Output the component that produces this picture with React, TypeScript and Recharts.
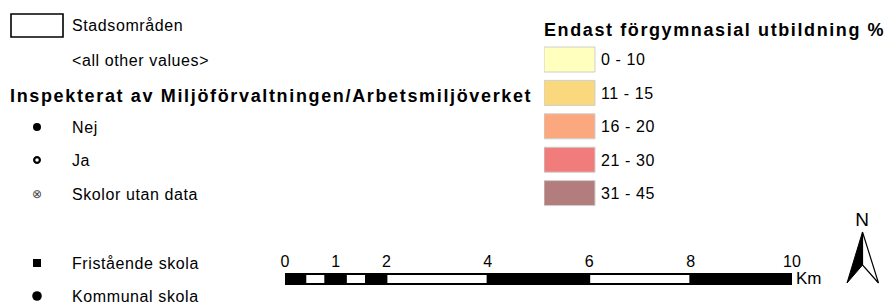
import { Bar, BarChart, Cell, Polygon, Rectangle, Surface, Symbols, Text, XAxis, YAxis } from "recharts"

const FONT = '"Liberation Sans", Arial, sans-serif'

// left legend: point symbols
const schoolStatus = ["Nej", "Ja", "Skolor utan data"]
const schoolTypes = ["Fristående skola", "Kommunal skola"]

// right legend: class breaks
const classLabels = ["0 - 10", "11 - 15", "16 - 20", "21 - 30", "31 - 45"]
const classColors = ["#ffffbe", "#f9d87e", "#fca87e", "#f07c7c", "#b47d7d"]

// scale bar (km)
const scaleBreaks = [0, 0.4, 0.8, 1.2, 1.6, 2, 4, 6, 8, 10]
const scaleTicks = [0, 1, 2, 4, 6, 8, 10]

const classData = classLabels.map((label, i) => ({ label, value: 1, color: classColors[i] }))

const scaleRow: Record<string, number | string> = { name: "km" }
const segKeys: string[] = []
for (let i = 1; i < scaleBreaks.length; i++) {
    const k = `s${i}`
    segKeys.push(k)
    scaleRow[k] = scaleBreaks[i] - scaleBreaks[i - 1]
}

function Label({ x, y, children, bold = false, size = 16, spacing = 0.6 }: any) {
    return (
        <Text
            x={x}
            y={y}
            verticalAnchor="middle"
            textAnchor="start"
            fontFamily={FONT}
            fontSize={size}
            fontWeight={bold ? "bold" : "normal"}
            letterSpacing={spacing}
            fill="#000"
        >
            {children}
        </Text>
    )
}

function Overlay() {
    return (
        <Surface width={892} height={307} style={{ position: "absolute", left: 0, top: 0 }}>
            <Rectangle x={11} y={14} width={52} height={23} fill="none" stroke="#000" strokeWidth={1.6} />
            <Label x={72} y={25}>Stadsområden</Label>
            <Label x={72} y={60}>{"<all other values>"}</Label>
            <Label x={10} y={96} bold size={18} spacing={1.65}>Inspekterat av Miljöförvaltningen/Arbetsmiljöverket</Label>

            <Symbols cx={37} cy={127} type="circle" size={50} fill="#000" />
            <Symbols cx={37} cy={160} type="circle" size={26} fill="#fff" stroke="#000" strokeWidth={2.2} />
            <Text x={37} y={194} textAnchor="middle" verticalAnchor="middle" fontFamily='"DejaVu Sans"' fontSize={12} fill="#444">⊗</Text>
            {schoolStatus.map((s, i) => (
                <Label key={s} x={72} y={[127, 160, 194][i]}>{s}</Label>
            ))}

            <Symbols cx={37} cy={263} type="square" size={64} fill="#000" />
            <Symbols cx={37} cy={296} type="circle" size={72} fill="#000" />
            {schoolTypes.map((s, i) => (
                <Label key={s} x={72} y={[263, 296][i]}>{s}</Label>
            ))}

            <Label x={544} y={30} bold size={18} spacing={1.6}>Endast förgymnasial utbildning %</Label>

            <Label x={796} y={278} size={17} spacing={0}>Km</Label>

            <Text x={862} y={219} textAnchor="middle" verticalAnchor="middle" fontFamily={FONT} fontSize={19} fill="#000">N</Text>
            <Polygon points={[{ x: 862.5, y: 232 }, { x: 847, y: 283 }, { x: 862.5, y: 265 }]} fill="#000" stroke="#000" strokeWidth={1} />
            <Polygon points={[{ x: 862.5, y: 232 }, { x: 862.5, y: 265 }, { x: 878.5, y: 283 }]} fill="#fff" stroke="#000" strokeWidth={1.2} />
        </Surface>
    )
}

function ClassSwatches() {
    return (
        <div style={{ position: "absolute", left: 544, top: 43 }}>
            <BarChart width={131} height={167} data={classData} layout="vertical" margin={{ top: 0, right: 0, bottom: 0, left: 0 }}>
                <XAxis type="number" domain={[0, 1]} hide />
                <YAxis
                    type="category"
                    dataKey="label"
                    orientation="right"
                    width={80}
                    axisLine={false}
                    tickLine={false}
                    tickSize={0}
                    tickMargin={6}
                    interval={0}
                    tick={{ fill: "#000", fontSize: 16, fontFamily: FONT, letterSpacing: 0.6 }}
                />
                <Bar dataKey="value" barSize={25} stroke="#cfcfcf" strokeWidth={1} isAnimationActive={false}>
                    {classData.map((d) => (
                        <Cell key={d.label} fill={d.color} />
                    ))}
                </Bar>
            </BarChart>
        </div>
    )
}

function ScaleBar() {
    return (
        <div style={{ position: "absolute", left: 265, top: 241 }}>
            <BarChart width={547} height={50} data={[scaleRow]} layout="vertical" margin={{ top: 0, right: 20, bottom: 0, left: 20 }}>
                <XAxis
                    type="number"
                    domain={[0, 10]}
                    allowDataOverflow
                    orientation="top"
                    ticks={scaleTicks}
                    interval={0}
                    height={26}
                    axisLine={false}
                    tickLine={false}
                    tickSize={0}
                    tickMargin={0}
                    tick={{ fill: "#000", fontSize: 16, fontFamily: FONT }}
                />
                <YAxis type="category" dataKey="name" hide />
                {segKeys.map((k, i) => (
                    <Bar
                        key={k}
                        dataKey={k}
                        stackId="scale"
                        barSize={10}
                        fill={i % 2 === 0 ? "#000" : "#fff"}
                        stroke="#000"
                        strokeWidth={2}
                        isAnimationActive={false}
                    />
                ))}
            </BarChart>
        </div>
    )
}

export default function App() {
    return (
        <div style={{ position: "absolute", left: 0, top: 0, width: 892, height: 307, background: "#fff", overflow: "hidden" }}>
            <Overlay />
            <ClassSwatches />
            <ScaleBar />
        </div>
    )
}
